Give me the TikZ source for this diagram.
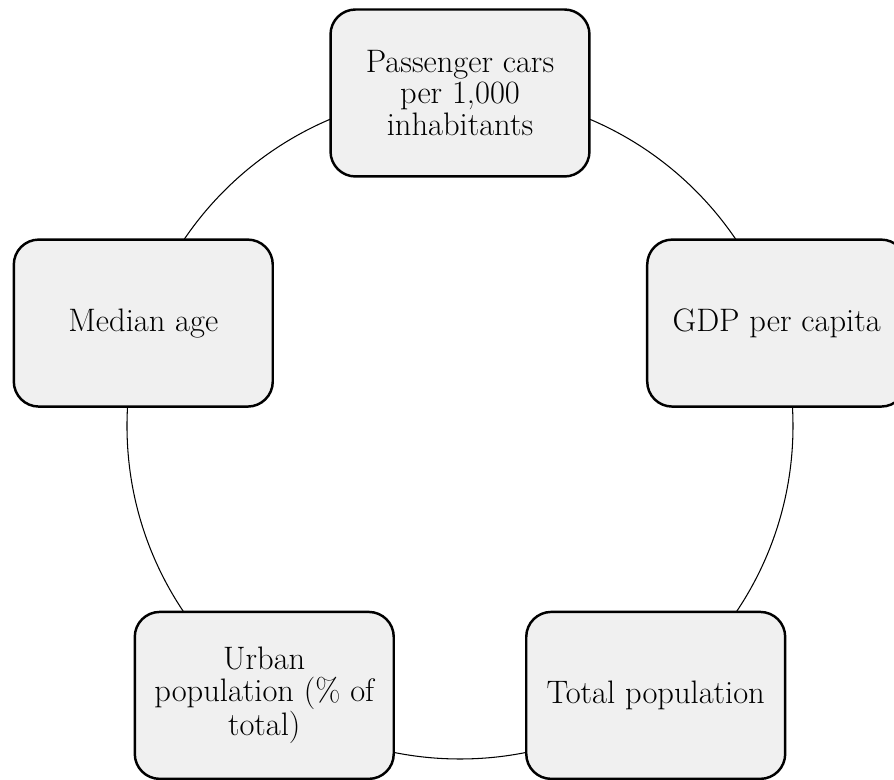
\documentclass[tikz,border=0pt]{standalone}
\usepackage{tikz}

\begin{document}
\begin{tikzpicture}[x=0.02cm,y=0.02cm,
    cyclebox/.style = {rectangle, rounded corners=0.5cm, draw=black, line width=1.4pt,
        fill=boxgray, minimum width=5.18cm, minimum height=3.34cm, align=center,
        font=\fontsize{18.5}{18}\selectfont, inner sep=2pt}]
     \definecolor{boxgray}{HTML}{F0F0F0}
     \clip (-460,-354) rectangle (434,426);
     \coordinate (c) at (0,0);
     \draw[line width=0.6pt] (c) circle (333);
     \node[cyclebox] (cars) at (90:333) {Passenger cars\\per 1,000\\inhabitants};
     \node[cyclebox] (gdp) at (18:333) {GDP per capita};
     \node[cyclebox] (total) at (-54:333) {Total population};
     \node[cyclebox] (urban) at (-126:333) {Urban\\population (\% of\\total)};
     \node[cyclebox] (age) at (162:333) {Median age};
\end{tikzpicture}
\end{document}
